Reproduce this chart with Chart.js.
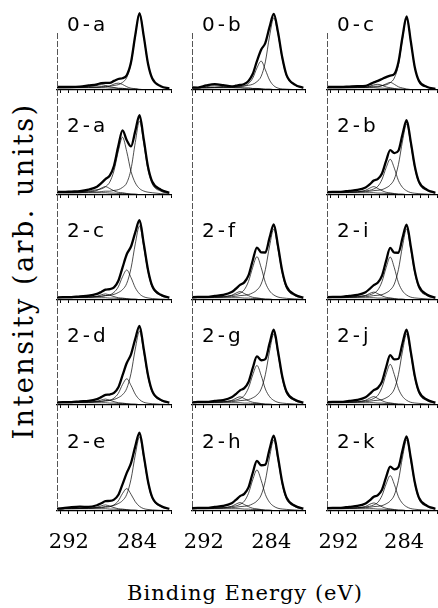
<!DOCTYPE html>
<html>
<head>
<meta charset="utf-8">
<script src="https://cdn.jsdelivr.net/npm/chart.js"></script>
<style>
  body { margin:0; background:#fff; width:438px; height:608px; position:relative; overflow:hidden; }
  canvas { position:absolute; }
  .plabel { position:absolute; font-family:"DejaVu Sans"; font-size:20px; line-height:1; letter-spacing:3px; color:#000; }
  .xtitle { position:absolute; left:245px; top:583px; transform:translateX(-50%); white-space:nowrap;
            font-family:"DejaVu Serif"; font-size:21px; line-height:1; letter-spacing:1px; color:#000; }
  .ytitle { position:absolute; left:23px; top:271px; transform:translate(-50%,-50%) rotate(-90deg); white-space:nowrap;
            font-family:"DejaVu Serif"; font-size:27px; line-height:1; letter-spacing:2.5px; color:#000; }
</style>
</head>
<body>
<div class="ytitle">Intensity (arb. units)</div>
<div class="xtitle">Binding Energy (eV)</div>
<script>
/* ── Data: binding energy grid (eV) and intensities ── */
const E = [293.7, 292.7, 291.7, 290.7, 289.7, 288.7, 288.2, 287.7, 287.2, 286.7, 286.2,
           285.7, 285.2, 284.7, 284.2, 283.7, 283.2, 282.7, 282.2, 281.2, 280.2];
const TICK_LABELS = [292, 284];
const BG = [0.03,0.03,0.03,0.03,0.03,0.03,0.03,0.03,0.025,0.025,0.02,0.02,0.015,0.01,0.01,0.005,0,0,0,0,0];

// 0-a
const env_0a = [0.04,0.04,0.04,0.045,0.06,0.075,0.09,0.095,0.095,0.12,0.145,0.155,0.195,0.365,0.72,1.01,0.705,0.345,0.15,0.05,0.02];
const c1_0a  = [0.03,0.03,0.03,0.035,0.04,0.04,0.045,0.05,0.05,0.06,0.07,0.10,0.165,0.35,0.71,1.005,0.70,0.34,0.15,0.05,0.02];
const c2_0a  = [0.031,0.031,0.031,0.032,0.034,0.035,0.038,0.044,0.053,0.078,0.09,0.073,0.043,0.024,0.018,0.01,0.004,0.003,0.002,0.001,0.001];
const c3_0a  = [0.03,0.03,0.032,0.035,0.046,0.06,0.07,0.06,0.041,0.033,0.024,0.022,0.016,0.01,0.01,0.005,0,0,0,0,0];
// 0-b
const env_0b = [0.034,0.032,0.06,0.077,0.064,0.047,0.056,0.066,0.08,0.12,0.21,0.38,0.53,0.62,0.83,1.0,0.76,0.43,0.2,0.07,0.03];
const c1_0b  = [0.03,0.03,0.03,0.035,0.04,0.04,0.045,0.05,0.052,0.062,0.075,0.11,0.18,0.37,0.71,0.95,0.735,0.415,0.19,0.065,0.026];
const c2_0b  = [0.03,0.03,0.03,0.032,0.034,0.037,0.041,0.046,0.055,0.085,0.155,0.29,0.38,0.265,0.13,0.056,0.025,0.014,0.011,0.005,0.004];
const c3_0b  = [0.03,0.032,0.045,0.055,0.045,0.035,0.03,0.03,0.025,0.025,0.02,0.02,0.015,0.01,0.01,0.005,0,0,0,0,0];
// 0-c
const env_0c = [0.04,0.04,0.04,0.045,0.05,0.055,0.075,0.1,0.12,0.145,0.17,0.19,0.21,0.365,0.70,0.97,0.645,0.295,0.12,0.04,0.015];
const c1_0c  = [0.03,0.03,0.03,0.035,0.04,0.04,0.045,0.05,0.05,0.058,0.068,0.096,0.158,0.33,0.675,0.955,0.64,0.29,0.115,0.038,0.014];
const c2_0c  = [0.03,0.031,0.031,0.032,0.032,0.034,0.036,0.039,0.041,0.057,0.08,0.10,0.075,0.042,0.026,0.014,0.006,0.004,0.003,0.002,0.001];
const c3_0c  = [0.03,0.03,0.03,0.03,0.033,0.036,0.05,0.067,0.075,0.062,0.04,0.03,0.02,0.012,0.01,0.005,0,0,0,0,0];
// 2-a
const env_2a = [0.04,0.04,0.045,0.05,0.07,0.11,0.155,0.21,0.255,0.385,0.64,0.85,0.72,0.64,0.84,1.05,0.73,0.37,0.175,0.07,0.03];
const c1_2a  = [0.03,0.03,0.03,0.03,0.04,0.04,0.045,0.05,0.05,0.06,0.07,0.10,0.16,0.34,0.69,0.975,0.68,0.33,0.145,0.05,0.02];
const c2_2a  = [0.035,0.04,0.04,0.045,0.05,0.07,0.08,0.11,0.17,0.32,0.575,0.76,0.57,0.31,0.16,0.085,0.052,0.037,0.03,0.018,0.011];
const c3_2a  = [0.03,0.03,0.03,0.035,0.04,0.06,0.09,0.11,0.085,0.055,0.035,0.03,0.02,0.013,0.01,0.005,0,0,0,0,0];
// 2-b
const env_2b = [0.035,0.04,0.042,0.055,0.066,0.1,0.14,0.19,0.212,0.283,0.448,0.59,0.552,0.582,0.80,0.985,0.702,0.376,0.176,0.067,0.03];
const c1_2b  = [0.03,0.035,0.035,0.04,0.04,0.044,0.049,0.058,0.062,0.071,0.094,0.132,0.21,0.40,0.71,0.935,0.67,0.353,0.158,0.056,0.023];
const c2_2b  = [0.032,0.035,0.035,0.039,0.044,0.053,0.062,0.08,0.115,0.205,0.358,0.47,0.353,0.19,0.1,0.055,0.032,0.023,0.018,0.011,0.007];
const c3_2b  = [0.03,0.03,0.03,0.034,0.04,0.062,0.09,0.11,0.085,0.057,0.036,0.028,0.019,0.012,0.01,0.005,0,0,0,0,0];
// 2-c
const env_2c = [0.032,0.037,0.039,0.049,0.056,0.08,0.106,0.136,0.144,0.165,0.25,0.426,0.602,0.704,0.89,1.051,0.74,0.396,0.184,0.069,0.032];
const c1_2c  = [0.03,0.035,0.035,0.04,0.04,0.045,0.049,0.059,0.064,0.074,0.098,0.136,0.219,0.417,0.738,0.975,0.698,0.369,0.165,0.058,0.024];
const c2_2c  = [0.032,0.032,0.034,0.036,0.04,0.045,0.049,0.057,0.067,0.101,0.172,0.305,0.395,0.295,0.162,0.081,0.042,0.027,0.019,0.011,0.008];
const c3_2c  = [0.03,0.03,0.03,0.033,0.036,0.05,0.068,0.08,0.063,0.045,0.03,0.025,0.018,0.012,0.01,0.005,0,0,0,0,0];
// 2-d
const env_2d = [0.032,0.037,0.038,0.048,0.054,0.078,0.104,0.132,0.138,0.16,0.23,0.389,0.552,0.667,0.87,1.041,0.734,0.392,0.182,0.068,0.031];
const c1_2d  = [0.03,0.035,0.035,0.04,0.04,0.045,0.049,0.058,0.063,0.073,0.097,0.135,0.218,0.415,0.736,0.973,0.697,0.368,0.165,0.058,0.024];
const c2_2d  = [0.032,0.032,0.033,0.035,0.038,0.043,0.047,0.053,0.061,0.091,0.152,0.268,0.345,0.258,0.142,0.071,0.036,0.023,0.017,0.01,0.007];
const c3_2d  = [0.03,0.03,0.03,0.033,0.036,0.05,0.066,0.078,0.062,0.044,0.03,0.025,0.018,0.012,0.01,0.005,0,0,0,0,0];
// 2-e
const env_2e = [0.031,0.036,0.05,0.057,0.053,0.076,0.101,0.129,0.133,0.15,0.21,0.351,0.502,0.629,0.85,1.031,0.729,0.389,0.179,0.066,0.03];
const c1_2e  = [0.03,0.035,0.035,0.04,0.04,0.045,0.049,0.059,0.064,0.074,0.098,0.136,0.219,0.417,0.738,0.975,0.698,0.369,0.165,0.058,0.024];
const c2_2e  = [0.031,0.031,0.033,0.034,0.037,0.041,0.044,0.05,0.056,0.081,0.132,0.23,0.295,0.22,0.122,0.061,0.031,0.02,0.014,0.008,0.006];
const c3_2e  = [0.03,0.03,0.03,0.033,0.036,0.05,0.068,0.08,0.063,0.045,0.03,0.025,0.018,0.012,0.01,0.005,0,0,0,0,0];
// 2-f
const env_2f = [0.033,0.041,0.041,0.055,0.067,0.104,0.148,0.198,0.232,0.323,0.52,0.69,0.627,0.625,0.82,0.995,0.71,0.381,0.18,0.07,0.031];
const c1_2f  = [0.03,0.035,0.035,0.04,0.04,0.044,0.049,0.058,0.062,0.071,0.094,0.132,0.21,0.40,0.71,0.935,0.67,0.353,0.158,0.056,0.023];
const c2_2f  = [0.033,0.036,0.036,0.041,0.047,0.058,0.069,0.09,0.135,0.245,0.43,0.57,0.428,0.23,0.12,0.066,0.039,0.028,0.022,0.014,0.008];
const c3_2f  = [0.03,0.03,0.03,0.034,0.04,0.062,0.09,0.11,0.085,0.057,0.036,0.028,0.019,0.012,0.01,0.005,0,0,0,0,0];
// 2-g
const env_2g = [0.033,0.04,0.04,0.054,0.065,0.101,0.144,0.193,0.222,0.303,0.485,0.64,0.589,0.604,0.81,0.99,0.705,0.378,0.178,0.069,0.031];
const c1_2g  = [0.03,0.035,0.035,0.04,0.04,0.044,0.049,0.058,0.062,0.071,0.094,0.132,0.21,0.40,0.71,0.935,0.67,0.353,0.158,0.056,0.023];
const c2_2g  = [0.033,0.035,0.035,0.04,0.045,0.055,0.065,0.085,0.125,0.225,0.395,0.52,0.39,0.21,0.11,0.06,0.035,0.025,0.02,0.013,0.008];
const c3_2g  = [0.03,0.03,0.03,0.034,0.04,0.06,0.088,0.108,0.084,0.056,0.036,0.028,0.019,0.012,0.01,0.005,0,0,0,0,0];
// 2-h
const env_2h = [0.034,0.04,0.041,0.055,0.066,0.102,0.146,0.196,0.226,0.31,0.5,0.66,0.602,0.61,0.815,0.992,0.707,0.379,0.179,0.069,0.031];
const c1_2h  = [0.03,0.035,0.035,0.04,0.04,0.044,0.049,0.058,0.062,0.071,0.094,0.132,0.21,0.40,0.71,0.935,0.67,0.353,0.158,0.056,0.023];
const c2_2h  = [0.033,0.035,0.035,0.04,0.046,0.056,0.067,0.087,0.129,0.233,0.41,0.54,0.405,0.218,0.114,0.062,0.036,0.026,0.021,0.013,0.008];
const c3_2h  = [0.03,0.03,0.03,0.034,0.04,0.062,0.09,0.11,0.085,0.057,0.036,0.028,0.019,0.012,0.01,0.005,0,0,0,0,0];
// 2-i
const env_2i = [0.034,0.041,0.042,0.055,0.067,0.103,0.147,0.196,0.23,0.32,0.515,0.685,0.623,0.622,0.818,0.993,0.709,0.38,0.18,0.07,0.031];
const c1_2i  = [0.03,0.035,0.035,0.04,0.04,0.044,0.049,0.058,0.062,0.071,0.094,0.132,0.21,0.40,0.71,0.935,0.67,0.353,0.158,0.056,0.023];
const c2_2i  = [0.033,0.036,0.036,0.041,0.047,0.058,0.068,0.089,0.133,0.242,0.425,0.565,0.424,0.228,0.119,0.065,0.038,0.027,0.022,0.014,0.008];
const c3_2i  = [0.03,0.03,0.03,0.034,0.04,0.06,0.086,0.104,0.082,0.055,0.035,0.028,0.019,0.012,0.01,0.005,0,0,0,0,0];
// 2-j
const env_2j = [0.034,0.04,0.041,0.055,0.066,0.102,0.146,0.195,0.225,0.308,0.497,0.655,0.6,0.608,0.813,0.99,0.706,0.378,0.178,0.069,0.031];
const c1_2j  = [0.03,0.035,0.035,0.04,0.04,0.044,0.049,0.058,0.062,0.071,0.094,0.132,0.21,0.40,0.71,0.935,0.67,0.353,0.158,0.056,0.023];
const c2_2j  = [0.033,0.035,0.035,0.04,0.046,0.056,0.066,0.086,0.128,0.23,0.405,0.535,0.4,0.215,0.113,0.062,0.036,0.026,0.021,0.013,0.008];
const c3_2j  = [0.03,0.03,0.03,0.034,0.04,0.062,0.09,0.11,0.085,0.057,0.036,0.028,0.019,0.012,0.01,0.005,0,0,0,0,0];
// 2-k
const env_2k = [0.035,0.04,0.042,0.055,0.066,0.1,0.14,0.188,0.21,0.28,0.445,0.585,0.548,0.578,0.798,0.983,0.7,0.375,0.176,0.067,0.03];
const c1_2k  = [0.03,0.035,0.035,0.04,0.04,0.044,0.049,0.058,0.062,0.071,0.094,0.132,0.21,0.40,0.71,0.935,0.67,0.353,0.158,0.056,0.023];
const c2_2k  = [0.032,0.035,0.035,0.039,0.044,0.053,0.062,0.08,0.114,0.203,0.355,0.465,0.35,0.188,0.1,0.055,0.032,0.023,0.018,0.011,0.007];
const c3_2k  = [0.03,0.03,0.03,0.034,0.04,0.06,0.088,0.106,0.083,0.056,0.036,0.028,0.019,0.012,0.01,0.005,0,0,0,0,0];

/* ── Layout ───────────────────────────────────────── */
const COL_L = [57, 192, 327], COL_R = [171, 305, 437];
const ROW_TOP = [33, 90, 195, 300, 405], ROW_BASE = [90, 195, 300, 405, 511];
const PX_PER_UNIT = 76;
const X_MIN = 280, X_MAX = 293.4;
const TICK_BAND = 44;   // room under the bottom row for 292 / 284

const panels = [
  { name:'0-a', r:0, c:0, s:[env_0a, c1_0a, c2_0a, c3_0a] },
  { name:'0-b', r:0, c:1, s:[env_0b, c1_0b, c2_0b, c3_0b] },
  { name:'0-c', r:0, c:2, s:[env_0c, c1_0c, c2_0c, c3_0c] },
  { name:'2-a', r:1, c:0, s:[env_2a, c1_2a, c2_2a, c3_2a] },
  { name:null,  r:1, c:1, s:null },
  { name:'2-b', r:1, c:2, s:[env_2b, c1_2b, c2_2b, c3_2b] },
  { name:'2-c', r:2, c:0, s:[env_2c, c1_2c, c2_2c, c3_2c] },
  { name:'2-f', r:2, c:1, s:[env_2f, c1_2f, c2_2f, c3_2f] },
  { name:'2-i', r:2, c:2, s:[env_2i, c1_2i, c2_2i, c3_2i] },
  { name:'2-d', r:3, c:0, s:[env_2d, c1_2d, c2_2d, c3_2d] },
  { name:'2-g', r:3, c:1, s:[env_2g, c1_2g, c2_2g, c3_2g] },
  { name:'2-j', r:3, c:2, s:[env_2j, c1_2j, c2_2j, c3_2j] },
  { name:'2-e', r:4, c:0, s:[env_2e, c1_2e, c2_2e, c3_2e] },
  { name:'2-h', r:4, c:1, s:[env_2h, c1_2h, c2_2h, c3_2h] },
  { name:'2-k', r:4, c:2, s:[env_2k, c1_2k, c2_2k, c3_2k] },
];

/* dashed left axis, like the scanned frame */
const dashedLeftAxis = {
  id: 'dashedLeftAxis',
  afterDraw(chart) {
    const { ctx, chartArea: a } = chart;
    ctx.save();
    ctx.strokeStyle = '#555';
    ctx.lineWidth = 1;
    ctx.setLineDash([6, 2]);
    ctx.beginPath();
    ctx.moveTo(a.left + 0.5, a.top);
    ctx.lineTo(a.left + 0.5, a.bottom);
    ctx.stroke();
    ctx.restore();
  }
};

const pts = ys => ys.map((y, i) => ({ x: E[i], y }));
const line = (ys, w) => ({
  data: pts(ys), borderColor: '#000', borderWidth: w, pointRadius: 0,
  cubicInterpolationMode: 'monotone', fill: false,
  clip: { left: 0, right: 0, top: false, bottom: 0 }
});
const noPad = s => { s.paddingLeft = 0; s.paddingRight = 0; s.paddingTop = 0; s.paddingBottom = 0; };

panels.forEach(p => {
  const bottomRow = p.r === 4;
  // bottom row canvases are wider on the left so the "292" label is not cut
  const padL = bottomRow ? 22 : 3, padR = 3, padT = p.r === 0 ? 33 : 20, padB = 6;
  const band = bottomRow ? TICK_BAND : 0;
  const left = COL_L[p.c], right = COL_R[p.c], top = ROW_TOP[p.r], base = ROW_BASE[p.r];
  const cv = document.createElement('canvas');
  cv.width = right - left + padL + padR;
  cv.height = base - top + padT + padB + band;
  cv.style.left = (left - padL) + 'px';
  cv.style.top = (top - padT) + 'px';
  document.body.appendChild(cv);

  const datasets = p.s ? [
    line(BG, 0.7), line(p.s[3], 0.7), line(p.s[2], 0.7), line(p.s[1], 0.7), line(p.s[0], 2.3)
  ] : [];

  new Chart(cv, {
    type: 'line',
    data: { datasets },
    plugins: [dashedLeftAxis],
    options: {
      responsive: false, animation: false, devicePixelRatio: 1,
      layout: { padding: { left: padL, right: padR, top: padT, bottom: padB } },
      plugins: { legend: { display: false }, tooltip: { enabled: false } },
      scales: {
        x: {
          type: 'linear', reverse: true, min: X_MIN, max: X_MAX,
          display: !!p.s,
          afterFit: s => { s.height = band; noPad(s); },
          grid: { display: true, drawOnChartArea: false, drawTicks: true, tickLength: 3, color: '#000', lineWidth: 1 },
          border: { display: true, color: '#000', width: 1.2 },
          ticks: {
            stepSize: 1, autoSkip: false, maxRotation: 0, includeBounds: false, padding: 16,
            color: '#000', font: { family: 'DejaVu Serif', size: 21 },
            callback: v => (bottomRow && TICK_LABELS.includes(v)) ? String(v) : ''
          }
        },
        y: {
          min: 0, max: (base - top) / PX_PER_UNIT,
          afterFit: s => { s.width = 0; noPad(s); },
          ticks: { display: false }, grid: { display: false }, border: { display: false }
        }
      }
    }
  });

  if (p.name) {
    const d = document.createElement('div');
    d.className = 'plabel';
    d.textContent = p.name;
    d.style.left = (left + 10) + 'px';
    d.style.top = ((p.r === 0 ? 24 : base - 70) - 10) + 'px';
    document.body.appendChild(d);
  }
});
</script>
</body>
</html>
